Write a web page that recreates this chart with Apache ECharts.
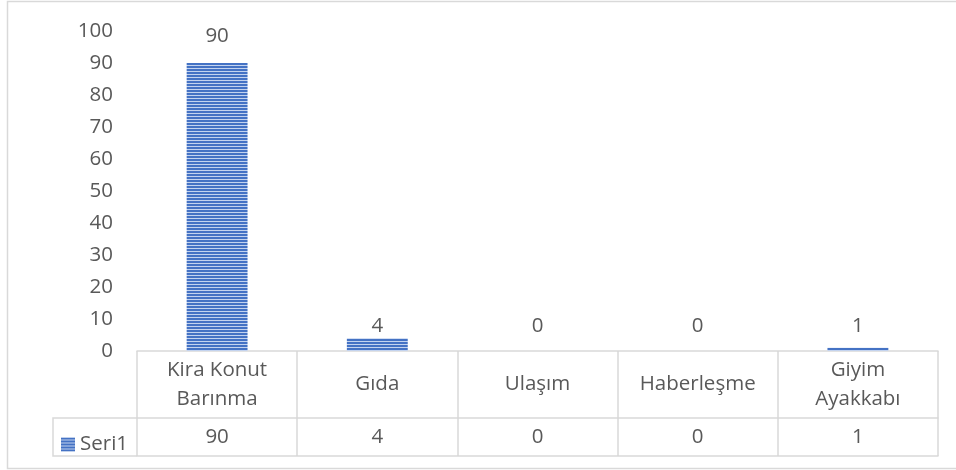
<!DOCTYPE html>
<html><head><meta charset="utf-8">
<script src="https://cdn.jsdelivr.net/npm/echarts@6/dist/echarts.min.js"></script>
<style>html,body{margin:0;padding:0;background:#fff}#c{width:956px;height:470px}</style>
</head><body><div id="c"></div>
<script>
const categories = ['Kira Konut\nBarınma', 'Gıda', 'Ulaşım', 'Haberleşme', 'Giyim\nAyakkabı'];
const seriesName = 'Seri1';
const values = [90, 4, 0, 0, 1];
const yTicks = [0, 10, 20, 30, 40, 50, 60, 70, 80, 90, 100];

// style-only settings
const labelGap = [16, 2, 14, 14, 11];
const FONT = '"Open Sans"';
const FS = 20.5;
const TXT = '#595959';
const LINE = '#d9d9d9';
const G = {left: 137, right: 18, top: 31, bottom: 119};
const ROW1 = 67, ROW2 = 105;

function stripes() {
  const c = document.createElement('canvas');
  c.width = 4; c.height = 3;
  const x = c.getContext('2d');
  x.fillStyle = '#4472c4'; x.fillRect(0, 0, 4, 2);
  x.fillStyle = '#c3d3ef'; x.fillRect(0, 2, 4, 1);
  return c;
}
const pat = {image: stripes(), repeat: 'repeat'};

const chart = echarts.init(document.getElementById('c'), null, {renderer: 'canvas'});
const W = 956, H = 470;
const tableLeft = 53;
const gBottomY = H - G.bottom;
chart.setOption({
  animation: false,
  color: [pat],
  grid: G,
  legend: {
    left: 56, top: gBottomY + ROW1 + 11,
    itemWidth: 14, itemHeight: 14, itemGap: 6,
    textStyle: {fontFamily: FONT, fontSize: FS, color: TXT},
    data: [{name: seriesName, icon: 'rect'}]
  },
  xAxis: [{
    type: 'category', data: categories,
    axisLine: {show: true, lineStyle: {color: LINE, width: 1.5}},
    axisTick: {show: true, length: ROW2, lineStyle: {color: LINE, width: 1.5}},
    axisLabel: {margin: ROW1 / 2, verticalAlign: 'middle', lineHeight: 29,
      fontFamily: FONT, fontSize: FS, color: TXT, interval: 0}
  }, {
    type: 'category', data: values.map(String), position: 'bottom', offset: ROW1,
    axisLine: {show: true, lineStyle: {color: LINE, width: 1.5}},
    axisTick: {show: false},
    axisLabel: {margin: (ROW2 - ROW1) / 2, verticalAlign: 'middle',
      fontFamily: FONT, fontSize: FS, color: TXT, interval: 0}
  }, {
    type: 'category', data: values.map(String), position: 'bottom', offset: ROW2,
    axisLine: {show: true, lineStyle: {color: LINE, width: 1.5}},
    axisTick: {show: false}, axisLabel: {show: false}
  }],
  yAxis: {
    type: 'value', min: 0, max: 100, interval: 10,
    axisLine: {show: false}, axisTick: {show: false}, splitLine: {show: false},
    axisLabel: {margin: 24, fontFamily: FONT, fontSize: FS, color: TXT,
      formatter: v => yTicks.includes(v) ? String(v) : ''}
  },
  series: [{
    name: seriesName, type: 'bar', barCategoryGap: '62%',
    data: values.map((v, i) => ({value: v, label: {distance: labelGap[i]}})),
    itemStyle: {color: pat},
    label: {show: true, position: 'top', fontFamily: FONT, fontSize: FS, color: TXT}
  }],
  graphic: [
    {type: 'rect', shape: {x: 7.5, y: 1.5, width: 970, height: 467},
     style: {fill: 'none', stroke: LINE, lineWidth: 1.5}, silent: true, z: -1},
    {type: 'polyline', shape: {points: [[G.left, gBottomY + ROW1], [tableLeft, gBottomY + ROW1], [tableLeft, gBottomY + ROW2], [G.left, gBottomY + ROW2]]},
     style: {fill: 'none', stroke: LINE, lineWidth: 1.5}, silent: true}
  ]
});
</script></body></html>
